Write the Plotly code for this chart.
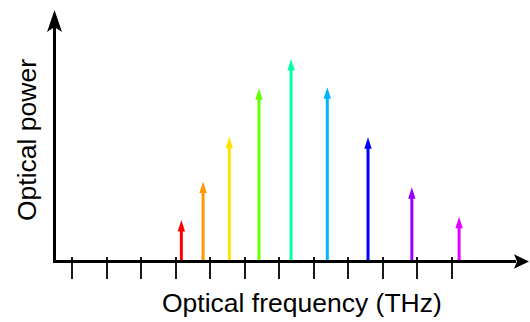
import plotly.graph_objects as go

# ---- data ----
freq = [3.17, 3.80, 4.56, 5.42, 6.35, 7.40, 8.58, 9.85, 11.22]
power = [0.207, 0.396, 0.617, 0.856, 1.0, 0.861, 0.614, 0.368, 0.223]
colors = ["#FF0000", "#FF9900", "#FFE100", "#66FF00", "#00FFA6",
          "#00B4FF", "#0000FF", "#9900FF", "#E100FF"]
tick_vals = list(range(12))
x_title = "Optical frequency (THz)"
y_title = "Optical power"

# ---- layout constants (pixels) ----
W, H = 530, 322
L, R, T, B = 56, 516, 20, 260
X0PX, XSTEP = 72, 34.5      # pixel of tick 0, pixels per unit
Y0PX, YSTEP = 262, 203      # pixel of power 0, pixels per unit
HEAD_PX = 11.5

xr = [(L - X0PX) / XSTEP, (R - X0PX) / XSTEP]
yr = [(Y0PX - B) / YSTEP, (Y0PX - T) / YSTEP]

def px_x(p):
    return (p - L) / (R - L)

def px_y(p):
    return (B - p) / (B - T)

fig = go.Figure()

for f, p, c in zip(freq, power, colors):
    fig.add_trace(go.Scatter(
        x=[f, f], y=[0, p - (HEAD_PX - 3) / YSTEP], mode="lines",
        line=dict(color=c, width=3), hoverinfo="skip", showlegend=False,
    ))

fig.add_trace(go.Scatter(
    x=freq, y=power, mode="markers",
    marker=dict(symbol="arrow", size=12, angle=0, color=colors,
                line=dict(width=0)),
    hoverinfo="skip", showlegend=False, cliponaxis=False,
))

# dummy trace for xaxis2 (inside ticks)
fig.add_trace(go.Scatter(x=[None], y=[None], xaxis="x2", showlegend=False))

font = dict(family="Liberation Sans, Arial, sans-serif", size=26.5, color="black")

fig.update_layout(
    width=W, height=H, autosize=False,
    margin=dict(l=L, r=W - R, t=T, b=H - B),
    paper_bgcolor="white", plot_bgcolor="white",
    xaxis=dict(range=xr, showgrid=False, zeroline=False, showline=True,
               linecolor="black", linewidth=3, ticks="outside", ticklen=16,
               tickwidth=2, tickcolor="#1a1a1a", tickvals=tick_vals,
               showticklabels=False, fixedrange=True),
    xaxis2=dict(range=xr, overlaying="x", anchor="y", side="bottom",
                showgrid=False, zeroline=False, showline=False,
                ticks="inside", ticklen=3, tickwidth=2, tickcolor="#1a1a1a",
                tickvals=tick_vals, showticklabels=False, fixedrange=True),
    yaxis=dict(range=yr, showgrid=False, zeroline=False, showline=True,
               linecolor="black", linewidth=3, ticks="", showticklabels=False,
               fixedrange=True),
    shapes=[
        dict(type="path", xref="paper", yref="paper", xsizemode="pixel",
             ysizemode="pixel", xanchor=0, yanchor=1,
             path="M -1.5,10 L -9,-12 L -1.5,-7 L 6,-12 Z",
             fillcolor="black", line=dict(width=0)),
        dict(type="path", xref="paper", yref="paper", xsizemode="pixel",
             ysizemode="pixel", xanchor=1, yanchor=0,
             path="M 13,-1.5 L -2,5.8 L 1,-1.5 L -2,-8.8 Z",
             fillcolor="black", line=dict(width=0)),
    ],
    annotations=[
        dict(text=x_title, xref="paper", yref="paper", x=px_x(302), y=px_y(303),
             xanchor="center", yanchor="middle", showarrow=False, font=font),
        dict(text=y_title, xref="paper", yref="paper", x=px_x(27), y=px_y(140),
             xanchor="center", yanchor="middle", showarrow=False, font=font,
             textangle=-90),
    ],
)

fig.write_html("out.html")
